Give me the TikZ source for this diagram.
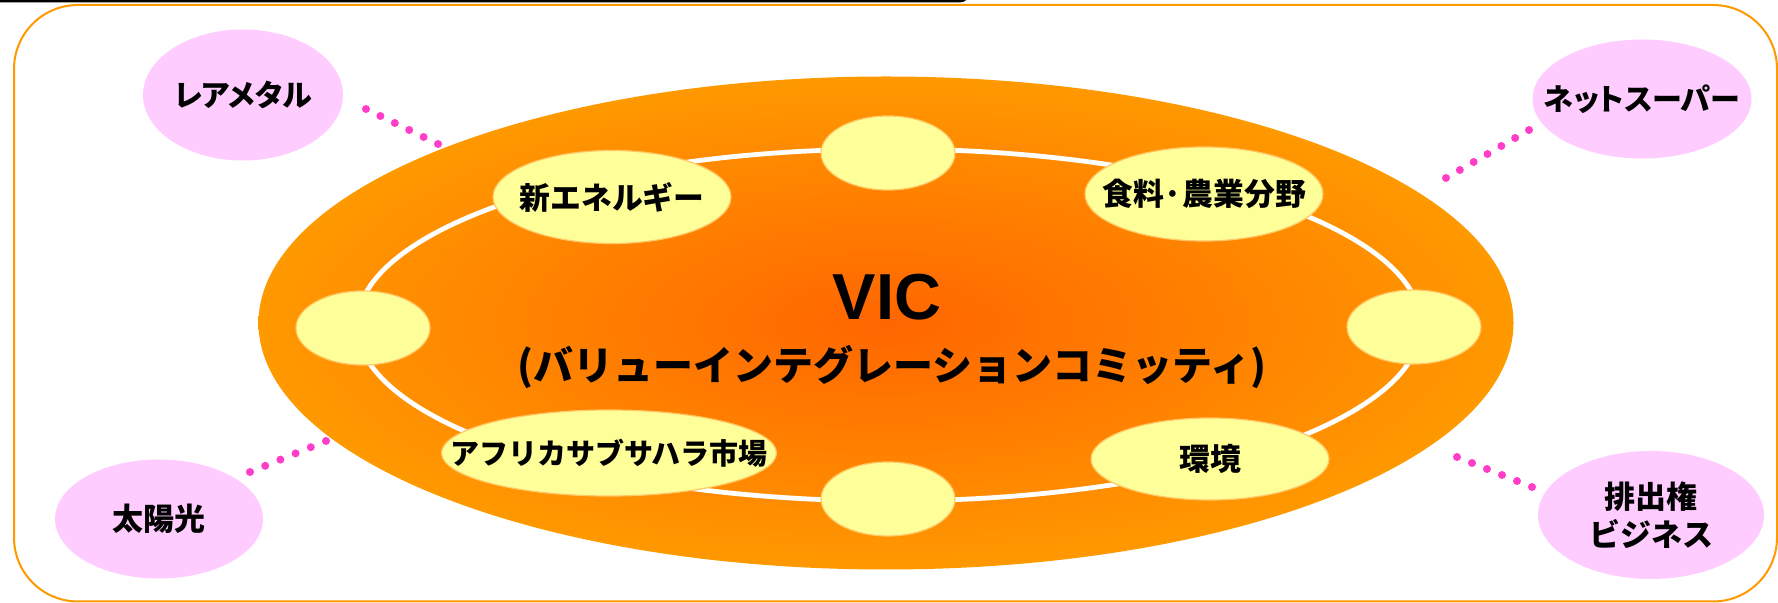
\documentclass[tikz,border=0pt]{standalone}
\usepackage{fontspec}
\setmainfont{Liberation Sans}
\newfontfamily\jp{Noto Sans CJK JP}
\newfontfamily\jpp{Noto Sans CJK JP}[RawFeature=+palt]
\usetikzlibrary{shapes.geometric,calc}
\definecolor{ringorange}{HTML}{FF9900}
\definecolor{coreorange}{HTML}{FF6600}
\definecolor{yel}{HTML}{FFFF99}
\definecolor{yeledge}{HTML}{FFC766}
\definecolor{pinkfill}{HTML}{FFCCFF}
\definecolor{dotpink}{HTML}{FF3DC8}
\definecolor{frameorange}{HTML}{FF9900}
\tikzset{
  yelnode/.style={ellipse, fill=yel, draw=yeledge, line width=0.6pt, inner sep=0pt},
  yeltext/.style={inner sep=0pt, font=\jp\bfseries\fontsize{15.4}{18}\selectfont},
  pinknode/.style={ellipse, fill=pinkfill, inner sep=0pt},
  pinktext/.style={inner sep=0pt, align=center, font=\jp\bfseries\fontsize{15.5}{19}\selectfont},
  pinkptext/.style={inner sep=0pt, align=center, font=\jpp\bfseries\fontsize{15}{19}\selectfont},
  pinkdot/.style={fill=dotpink},
}
\begin{document}
\begin{tikzpicture}[x=0.5pt,y=-0.5pt]
\useasboundingbox (0,0) rectangle (1778,603);
\clip (0,0) rectangle (1778,603);
% frames
\draw[frameorange, line width=1pt, rounded corners=32pt] (14,5) rectangle (1777,601.5);
\draw[black, line width=1.4pt, rounded corners=4pt] (-20,-60) rectangle (968,1);
% core ellipse
\node[ellipse, inner sep=0pt, minimum width=627.5pt, minimum height=246.5pt,
      inner color=coreorange, outer color=ringorange] (core) at (886,323) {};
\node[ellipse, draw=white, line width=2.4pt, inner sep=0pt,
      minimum width=532pt, minimum height=176pt] (ring) at (889,325) {};
% yellow nodes
\node[yelnode, minimum width=67pt, minimum height=37pt] (top) at (888,153) {};
\node[yelnode, minimum width=67pt, minimum height=37pt] (bottom) at (888,499) {};
\node[yelnode, minimum width=67pt, minimum height=37pt] (left) at (363,328) {};
\node[yelnode, minimum width=67pt, minimum height=37pt] (right) at (1414,327) {};
\node[yelnode, minimum width=119pt, minimum height=46.5pt] (newen) at (612,197) {};
\node[yeltext] (newent) at (newen) {新エネルギー};
\node[yelnode, minimum width=119pt, minimum height=47pt] (food) at (1204,194) {};
\node[yeltext] (foodt) at (food) {食料·農業分野};
\node[yelnode, minimum width=167.5pt, minimum height=43pt] (africa) at (609,453) {};
\node[yeltext, font=\jp\bfseries\fontsize{14.5}{18}\selectfont] (africat) at (africa) {アフリカサブサハラ市場};
\node[yelnode, minimum width=119pt, minimum height=41pt] (env) at (1210,459) {};
\node[yeltext] (envt) at (env) {環境};
% center text
\node[font=\bfseries\fontsize{32.5}{36}\selectfont, inner sep=0pt] (vic) at (887,297) {VIC};
\node[font=\jp\bfseries\fontsize{20}{24}\selectfont, inner sep=0pt] (vicjp) at (892,367) {(バリューインテグレーションコミッティ)};
% pink nodes
\node[pinknode, minimum width=100pt, minimum height=65.5pt] (rare) at (243,95) {};
\node[pinkptext] (raret) at (rare) {レアメタル};
\node[pinknode, minimum width=109.5pt, minimum height=59.5pt] (net) at (1642,99) {};
\node[pinkptext] (nett) at (net) {ネットスーパー};
\node[pinknode, minimum width=104pt, minimum height=59.5pt] (solar) at (159,519) {};
\node[pinktext] (solart) at (solar) {太陽光};
\node[pinknode, minimum width=113pt, minimum height=64pt] (emis) at (1651,515) {};
\node[pinktext] (emist) at (emis) {排出権\\ビジネス};
% dotted connectors
\coordinate (tl1) at (366,109); \coordinate (tl2) at (438,144);
\coordinate (tr1) at (1529,130); \coordinate (tr2) at (1446,178);
\coordinate (bl1) at (250,472); \coordinate (bl2) at (326,441);
\coordinate (br1) at (1532,487); \coordinate (br2) at (1457,457);
\foreach \i in {0,...,5} \fill[pinkdot] ($(tl1)!\i/5!(tl2)$) circle (2pt);
\foreach \i in {0,...,6} \fill[pinkdot] ($(tr1)!\i/6!(tr2)$) circle (2pt);
\foreach \i in {0,...,5} \fill[pinkdot] ($(bl1)!\i/5!(bl2)$) circle (2pt);
\foreach \i in {0,...,5} \fill[pinkdot] ($(br1)!\i/5!(br2)$) circle (2pt);
\end{tikzpicture}
\end{document}
